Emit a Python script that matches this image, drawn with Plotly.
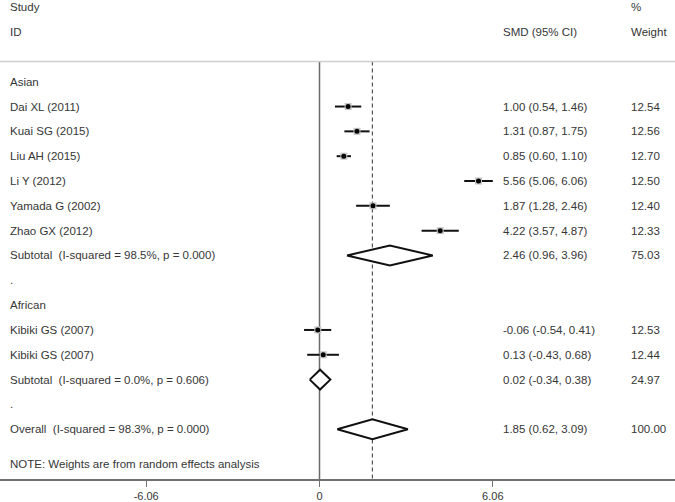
import plotly.graph_objects as go

# ---------------- data ----------------
study_labels = ["Dai XL (2011)", "Kuai SG (2015)", "Liu AH (2015)", "Li Y (2012)",
                "Yamada G (2002)", "Zhao GX (2012)", "Kibiki GS (2007)", "Kibiki GS (2007)"]
study_smd = [1.00, 1.31, 0.85, 5.56, 1.87, 4.22, -0.06, 0.13]
study_lo = [0.54, 0.87, 0.60, 5.06, 1.28, 3.57, -0.54, -0.43]
study_hi = [1.46, 1.75, 1.10, 6.06, 2.46, 4.87, 0.41, 0.68]
study_weight = [12.54, 12.56, 12.70, 12.50, 12.40, 12.33, 12.53, 12.44]
study_rows = [1, 2, 3, 4, 5, 6, 10, 11]

pooled_labels = ["Subtotal  (I-squared = 98.5%, p = 0.000)",
                 "Subtotal  (I-squared = 0.0%, p = 0.606)",
                 "Overall  (I-squared = 98.3%, p = 0.000)"]
pooled_smd = [2.46, 0.02, 1.85]
pooled_lo = [0.96, -0.34, 0.62]
pooled_hi = [3.96, 0.38, 3.09]
pooled_weight = [75.03, 24.97, 100.00]
pooled_rows = [7, 12, 14]

group_labels = ["Asian", ".", "African", "."]
group_rows = [0, 8, 9, 13]

overall_smd = 1.85
tick_vals = [-6.06, 0, 6.06]
tick_text = ["-6.06", "0", "6.06"]
note_text = "NOTE: Weights are from random effects analysis"

# ---------------- layout constants ----------------
W, H = 675, 502
zero_px = 319.5
px_per_unit = 28.6
row0_px = 81.8
row_h = 24.85
axis_px = 479.5
mb = H - axis_px

x_range = [-zero_px / px_per_unit, (W - zero_px) / px_per_unit]
y_top = -row0_px / row_h
y_bot = (axis_px - row0_px) / row_h

TXT = "#363636"
FONT = "Liberation Sans, Arial, sans-serif"
FS = 11.5

fig = go.Figure()

# CI lines
for r, m, lo, hi in zip(study_rows, study_smd, study_lo, study_hi):
    fig.add_trace(go.Scatter(x=[lo, hi], y=[r, r], mode="lines",
                             line=dict(color="#111111", width=2), hoverinfo="skip",
                             showlegend=False))
# weight boxes (small grey squares) and point estimates
fig.add_trace(go.Scatter(x=study_smd, y=study_rows, mode="markers",
                         marker=dict(symbol="square", size=7, color="#c4c4c4"),
                         showlegend=False, hoverinfo="skip"))
fig.add_trace(go.Scatter(x=study_smd, y=study_rows, mode="markers",
                         marker=dict(symbol="circle", size=5, color="#000000"),
                         showlegend=False, hoverinfo="skip"))

# diamonds
dh = 0.4
for r, m, lo, hi in zip(pooled_rows, pooled_smd, pooled_lo, pooled_hi):
    fig.add_trace(go.Scatter(x=[lo, m, hi, m, lo], y=[r, r - dh, r, r + dh, r],
                             mode="lines", fill="toself", fillcolor="white",
                             line=dict(color="#111111", width=2),
                             showlegend=False, hoverinfo="skip"))

sep_px = 61.5
sep_y = (sep_px - row0_px) / row_h

shapes = [
    dict(type="line", xref="paper", yref="y", x0=0, x1=1, y0=sep_y, y1=sep_y,
         line=dict(color="#cfcfcf", width=1.5)),
    dict(type="line", xref="x", yref="y", x0=0, x1=0, y0=sep_y, y1=y_bot,
         line=dict(color="#6a6a6a", width=1.5), layer="below"),
    dict(type="line", xref="x", yref="y", x0=overall_smd, x1=overall_smd, y0=sep_y, y1=y_bot,
         line=dict(color="#555555", width=1.2, dash="4px,3px"), layer="below"),
]

ann = []
def add_text(text, px, row):
    ann.append(dict(text=text, xref="paper", yref="y", x=px / W, y=row,
                    xanchor="left", yanchor="middle", showarrow=False,
                    font=dict(family=FONT, size=FS, color=TXT)))

LX, SX, WX = 8, 501, 629
add_text("Study", LX, -3)
add_text("ID", LX, -2)
add_text("SMD (95% CI)", SX, -2)
add_text("%", WX, -3)
add_text("Weight", WX, -2)

for lab, r in zip(group_labels, group_rows):
    add_text(lab, LX, r)
for lab, r, m, lo, hi, w in zip(study_labels, study_rows, study_smd, study_lo, study_hi, study_weight):
    add_text(lab, LX, r)
    add_text(f"{m:.2f} ({lo:.2f}, {hi:.2f})", SX, r)
    add_text(f"{w:.2f}", WX, r)
for lab, r, m, lo, hi, w in zip(pooled_labels, pooled_rows, pooled_smd, pooled_lo, pooled_hi, pooled_weight):
    add_text(lab, LX, r)
    add_text(f"{m:.2f} ({lo:.2f}, {hi:.2f})", SX, r)
    add_text(f"{w:.2f}", WX, r)
add_text(note_text, LX, (464 - row0_px) / row_h)

fig.update_layout(
    width=W, height=H,
    margin=dict(l=0, r=0, t=0, b=mb),
    paper_bgcolor="white", plot_bgcolor="white",
    shapes=shapes, annotations=ann,
    xaxis=dict(range=x_range, showgrid=False, zeroline=False, showline=True,
               linecolor="#707070", linewidth=2, ticks="outside", ticklen=6,
               tickwidth=1, tickcolor="#707070", tickvals=tick_vals, ticktext=tick_text,
               tickfont=dict(family=FONT, size=11, color=TXT), automargin=False, fixedrange=True),
    yaxis=dict(range=[y_bot, y_top], visible=False, showgrid=False, zeroline=False,
               automargin=False, fixedrange=True),
    font=dict(family=FONT, size=FS, color=TXT),
)

fig.write_html("out.html", config={"displayModeBar": False},
               post_script="document.body.style.margin='0';document.body.style.overflow='hidden';")
